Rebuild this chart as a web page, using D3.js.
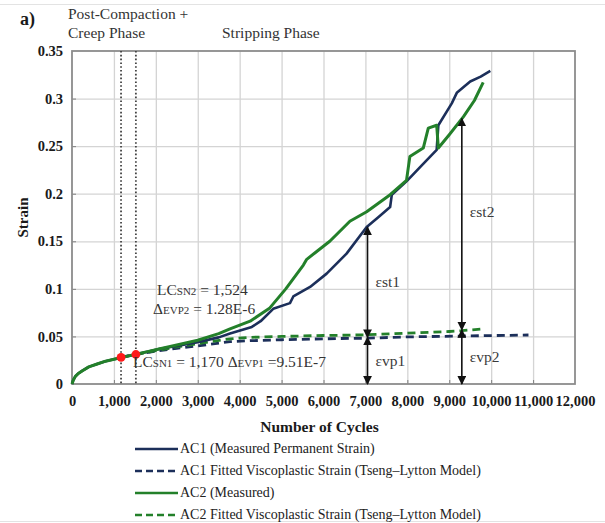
<!DOCTYPE html>
<html>
<head>
<meta charset="utf-8">
<script src="https://cdn.jsdelivr.net/npm/d3@7"></script>
<style>
  html, body { margin: 0; padding: 0; background: #fff; }
  svg { display: block; font-family: "Liberation Serif", "Times New Roman", serif; }
</style>
</head>
<body>
<svg id="chart" width="605" height="523"></svg>
<script>
// Axis ticks
const xTicks = [0, 1000, 2000, 3000, 4000, 5000, 6000, 7000, 8000, 9000, 10000, 11000, 12000];
const yTicks = [0, 0.05, 0.1, 0.15, 0.2, 0.25, 0.3, 0.35];

// AC1 measured permanent strain
const ac1Cycles = [0, 30, 80, 150, 250, 400, 600, 800, 1000, 1200, 1500, 1800, 2100, 2500, 3000, 3500, 3770, 4290, 4500, 4800, 5200, 5280, 5680, 6075, 6550, 7030, 7300, 7590, 7630, 7980, 8350, 8700, 8740, 9060, 9180, 9500, 9750, 9980];
const ac1Strain = [0, 0.004, 0.008, 0.011, 0.014, 0.018, 0.021, 0.024, 0.026, 0.028, 0.031, 0.034, 0.037, 0.040, 0.044, 0.049, 0.053, 0.060, 0.066, 0.079, 0.085, 0.092, 0.102, 0.116, 0.137, 0.165, 0.175, 0.186, 0.199, 0.213, 0.230, 0.246, 0.272, 0.295, 0.306, 0.318, 0.323, 0.329];

// AC2 measured
const ac2Cycles = [0, 30, 80, 150, 250, 400, 600, 800, 1000, 1200, 1500, 1800, 2100, 2500, 3000, 3500, 3770, 4250, 4720, 5100, 5520, 5600, 5800, 6150, 6630, 7030, 7590, 7980, 8060, 8380, 8500, 8700, 8740, 9000, 9340, 9600, 9810];
const ac2Strain = [0, 0.004, 0.008, 0.011, 0.014, 0.018, 0.021, 0.024, 0.026, 0.028, 0.031, 0.034, 0.037, 0.041, 0.046, 0.053, 0.058, 0.066, 0.080, 0.100, 0.125, 0.131, 0.138, 0.150, 0.171, 0.181, 0.199, 0.214, 0.239, 0.248, 0.269, 0.272, 0.248, 0.262, 0.281, 0.298, 0.317];

// Fitted viscoplastic strain (Tseng–Lytton model)
const ac1FitCycles = [1170, 1500, 2000, 2500, 3000, 3770, 4250, 5000, 6000, 6400, 7070, 8000, 9300, 10000, 10890];
const ac1FitStrain = [0.028, 0.031, 0.0345, 0.0375, 0.040, 0.0445, 0.0455, 0.0465, 0.0475, 0.0478, 0.0482, 0.0495, 0.0504, 0.0509, 0.0515];
const ac2FitCycles = [1524, 2000, 2500, 3000, 3770, 4250, 5000, 6000, 6400, 7070, 8000, 9000, 9300, 9810];
const ac2FitStrain = [0.031, 0.035, 0.039, 0.0425, 0.0475, 0.049, 0.050, 0.051, 0.0512, 0.0518, 0.0535, 0.0552, 0.056, 0.058];

// Critical load-cycle points
const lcCycles = [1170, 1524];
const lcStrain = [0.028, 0.031];

// Strain decomposition arrows
const arrowCycles = [7050, 7050, 9300, 9300];
const arrowFrom = [0, 0.049, 0, 0.057];
const arrowTo = [0.049, 0.165, 0.057, 0.279];
const arrowLabels = ["εvp1", "εst1", "εvp2", "εst2"];

const seriesNames = [
  "AC1 (Measured Permanent Strain)",
  "AC1 Fitted Viscoplastic Strain (Tseng–Lytton Model)",
  "AC2 (Measured)",
  "AC2 Fitted Viscoplastic Strain (Tseng–Lytton Model)"
];

const NAVY = "#1c2f5a";
const GREEN = "#23802a";

const svg = d3.select("#chart");
const margin = { left: 72, right: 30, top: 51, bottom: 139 };
const W = 605, H = 523;

const x = d3.scaleLinear().domain([0, 12000]).range([margin.left, W - margin.right]);
const y = d3.scaleLinear().domain([0, 0.35]).range([H - margin.bottom, margin.top]);
const plotH = y(0) - y(0.35), plotW = x(12000) - x(0);

// outer frame lines
svg.append("line").attr("x1", 0).attr("x2", W).attr("y1", 4.5).attr("y2", 4.5).attr("stroke", "#e3e3e3");
svg.append("line").attr("x1", 0).attr("x2", W).attr("y1", 521.5).attr("y2", 521.5).attr("stroke", "#e3e3e3");

// gridlines drawn as full-length axis ticks
const gx = svg.append("g").attr("transform", `translate(0,${y(0)})`)
  .call(d3.axisBottom(x).tickValues(xTicks.slice(1, -1)).tickSize(-plotH).tickFormat(""));
const gy = svg.append("g").attr("transform", `translate(${x(0)},0)`)
  .call(d3.axisLeft(y).tickValues(yTicks.slice(1, -1)).tickSize(-plotW).tickFormat(""));
[gx, gy].forEach(g => {
  g.select(".domain").remove();
  g.selectAll(".tick line").attr("stroke", "#d4d4d4").attr("stroke-width", 1.3);
});

// axes
const xAxis = svg.append("g").attr("transform", `translate(0,${y(0)})`)
  .call(d3.axisBottom(x).tickValues(xTicks).tickFormat(d3.format(",")).tickSizeInner(-4).tickSizeOuter(0).tickPadding(12));
const yAxis = svg.append("g").attr("transform", `translate(${x(0)},0)`)
  .call(d3.axisLeft(y).tickValues(yTicks).tickFormat(d => String(d)).tickSizeInner(-4).tickSizeOuter(0).tickPadding(9));
[xAxis, yAxis].forEach(a => {
  a.select(".domain").remove();
  a.selectAll(".tick line").attr("stroke", "#808080");
  a.selectAll(".tick text").attr("font-family", "Liberation Serif, serif")
    .attr("font-size", 14.5).attr("font-weight", "bold").attr("fill", "#1a1a1a");
});
xAxis.selectAll(".tick").filter(d => d === 0 || d === 12000).select("line").remove();
yAxis.selectAll(".tick").filter(d => d === 0 || d === 0.35).select("line").remove();

// plot border
svg.append("rect")
  .attr("x", x(0)).attr("y", y(0.35))
  .attr("width", plotW).attr("height", plotH)
  .attr("fill", "none").attr("stroke", "#8c8c8c").attr("stroke-width", 1.8);

// axis titles
svg.append("text").attr("x", (x(0) + x(12000)) / 2 - 4).attr("y", 432)
  .attr("text-anchor", "middle").attr("font-size", 15.5).attr("font-weight", "bold").attr("fill", "#1a1a1a")
  .text("Number of Cycles");
svg.append("text").attr("transform", `translate(28,${(y(0) + y(0.35)) / 2}) rotate(-90)`)
  .attr("text-anchor", "middle").attr("font-size", 15).attr("font-weight", "bold").attr("fill", "#1a1a1a")
  .text("Strain");

// phase boundaries
svg.selectAll("line.phase").data(lcCycles).join("line").attr("class", "phase")
  .attr("x1", d => x(d)).attr("x2", d => x(d))
  .attr("y1", y(0.35)).attr("y2", y(0))
  .attr("stroke", "#444").attr("stroke-width", 1.8).attr("stroke-dasharray", "1.6,2.2");

const line = d3.line().x(d => x(d[0])).y(d => y(d[1]));
const zipXY = (a, b) => a.map((v, i) => [v, b[i]]);

// fitted curves
svg.append("path").datum(zipXY(ac1FitCycles, ac1FitStrain))
  .attr("d", line).attr("fill", "none").attr("stroke", NAVY)
  .attr("stroke-width", 2.8).attr("stroke-dasharray", "8,5");
svg.append("path").datum(zipXY(ac2FitCycles, ac2FitStrain))
  .attr("d", line).attr("fill", "none").attr("stroke", GREEN)
  .attr("stroke-width", 2.8).attr("stroke-dasharray", "8,5");

// measured curves
svg.append("path").datum(zipXY(ac1Cycles, ac1Strain))
  .attr("d", line).attr("fill", "none").attr("stroke", NAVY)
  .attr("stroke-width", 2.6).attr("stroke-linejoin", "round");
svg.append("path").datum(zipXY(ac2Cycles, ac2Strain))
  .attr("d", line).attr("fill", "none").attr("stroke", GREEN)
  .attr("stroke-width", 3).attr("stroke-linejoin", "round");

// critical points
svg.selectAll("circle.lc").data(lcCycles).join("circle").attr("class", "lc")
  .attr("cx", d => x(d)).attr("cy", (d, i) => y(lcStrain[i]))
  .attr("r", 4.4).attr("fill", "#ff1a1a");

// double-headed arrows
const defs = svg.append("defs");
defs.append("marker").attr("id", "ah").attr("viewBox", "0 0 10 10")
  .attr("refX", 9).attr("refY", 5).attr("markerWidth", 5.5).attr("markerHeight", 5.5)
  .attr("markerUnits", "strokeWidth").attr("orient", "auto-start-reverse")
  .append("path").attr("d", "M0,0 L10,5 L0,10 z").attr("fill", "#111");
svg.selectAll("line.arr").data(arrowCycles).join("line").attr("class", "arr")
  .attr("x1", d => x(d)).attr("x2", d => x(d))
  .attr("y1", (d, i) => y(arrowFrom[i])).attr("y2", (d, i) => y(arrowTo[i]))
  .attr("stroke", "#111").attr("stroke-width", 1.6)
  .attr("marker-start", "url(#ah)").attr("marker-end", "url(#ah)");
svg.selectAll("text.arrLabel").data(arrowLabels).join("text").attr("class", "arrLabel")
  .attr("x", (d, i) => x(arrowCycles[i]) + 8)
  .attr("y", (d, i) => (y(arrowFrom[i]) + y(arrowTo[i])) / 2 + (i === 3 ? -7 : 5))
  .attr("font-size", 15.5).attr("fill", "#3a3a3a")
  .text(d => d);

// annotation text
const ann = svg.append("g").attr("fill", "#333").attr("font-size", 15.5);
function sub(t, base, s) {
  t.append("tspan").text(base);
  t.append("tspan").attr("font-size", 11).text(s);
}
const t1 = ann.append("text").attr("x", 157).attr("y", 295);
sub(t1, "LC", "SN2");
t1.append("tspan").text(" = 1,524");
const t2 = ann.append("text").attr("x", 153).attr("y", 314);
sub(t2, "Δ", "ΕVP2");
t2.append("tspan").text(" = 1.28E-6");
const t3 = ann.append("text").attr("x", 133).attr("y", 367);
sub(t3, "LC", "SN1");
t3.append("tspan").text(" = 1,170 ");
sub(t3, "Δ", "ΕVP1");
t3.append("tspan").text(" =9.51E-7");

// phase titles
svg.append("text").attr("x", 20).attr("y", 25).attr("font-size", 18).attr("font-weight", "bold").attr("fill", "#1a1a1a").text("a)");
const ph = svg.append("g").attr("font-size", 15.5).attr("fill", "#333");
ph.append("text").attr("x", 68).attr("y", 19).text("Post-Compaction +");
ph.append("text").attr("x", 68).attr("y", 38).text("Creep Phase");
ph.append("text").attr("x", 222).attr("y", 38).text("Stripping Phase");

// legend
const legColors = [NAVY, NAVY, GREEN, GREEN];
const legDash = [null, "7,4", null, "7,4"];
const leg = svg.append("g");
seriesNames.forEach((name, i) => {
  const ly = 449 + i * 22;
  leg.append("line").attr("x1", 135).attr("x2", 178).attr("y1", ly).attr("y2", ly)
    .attr("stroke", legColors[i]).attr("stroke-width", 2.6)
    .attr("stroke-dasharray", legDash[i]);
  leg.append("text").attr("x", 180).attr("y", ly + 4)
    .attr("font-size", 14).attr("fill", "#222").text(name);
});
</script>
</body>
</html>
